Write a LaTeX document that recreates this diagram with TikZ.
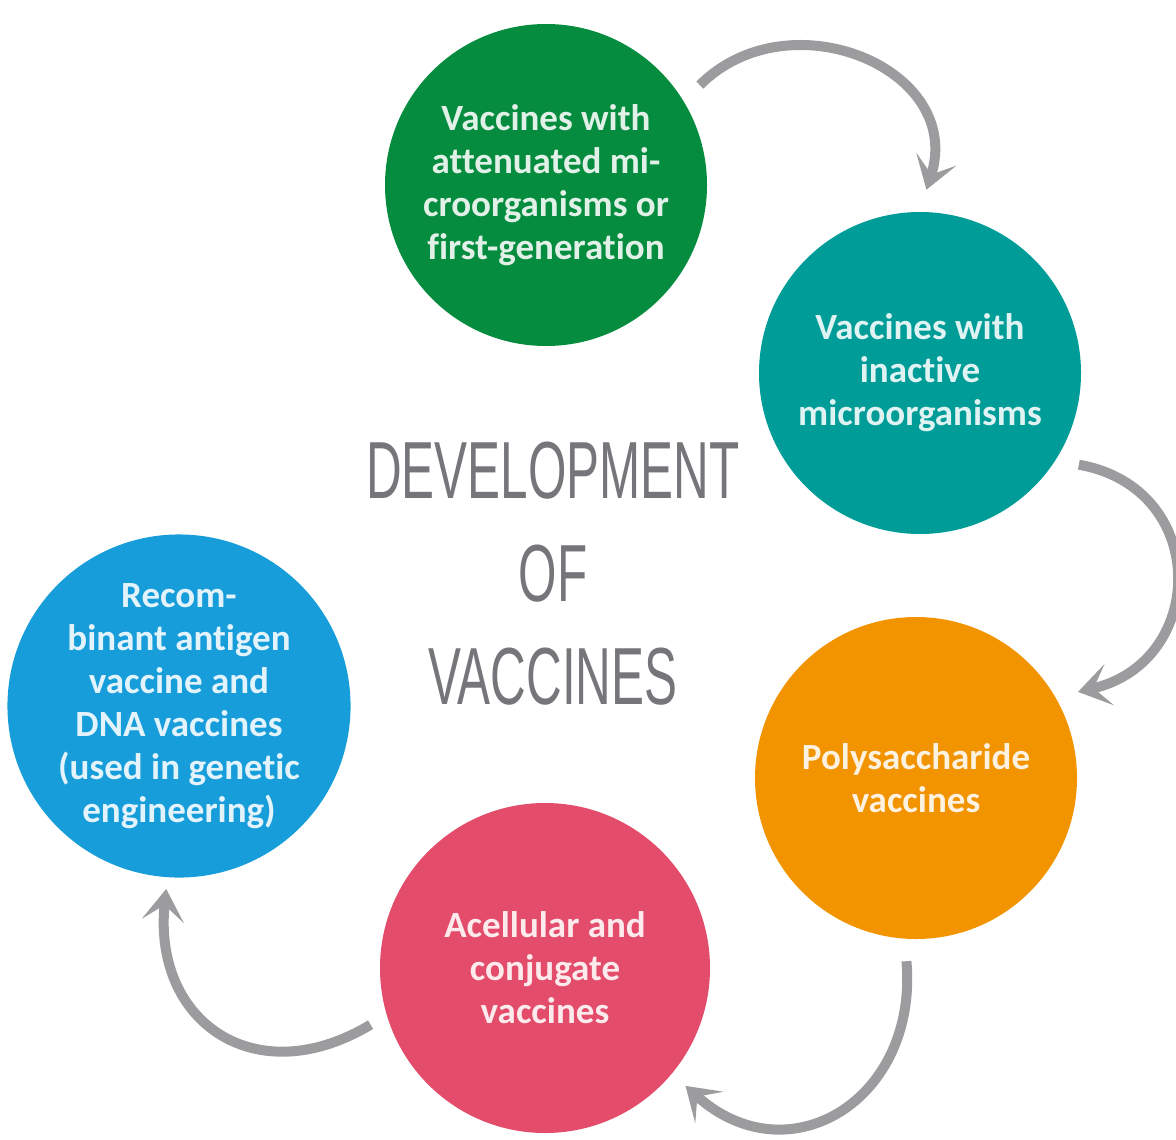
\documentclass[tikz,border=0pt]{standalone}
\usepackage{fontspec}
\usepackage{graphicx}
\usetikzlibrary{arrows.meta}
\newfontfamily\stagefont[Ligatures=NoCommon]{Carlito}
\newfontfamily\headfont{Liberation Sans}
\definecolor{vgreen}{RGB}{6,140,62}
\definecolor{vteal}{RGB}{0,157,152}
\definecolor{vorange}{RGB}{242,147,0}
\definecolor{vpink}{RGB}{227,76,106}
\definecolor{vblue}{RGB}{22,157,218}
\definecolor{cyclegray}{RGB}{156,156,158}
\definecolor{headgray}{RGB}{118,118,122}
\newcommand\narrowcaps[1]{\scalebox{0.61}[1]{#1}}

\begin{document}
\begin{tikzpicture}[x=0.5pt,y=0.5pt,
  stage/.style={circle,inner sep=0pt,align=center,
    font=\stagefont\bfseries\fontsize{18.5}{21.5}\selectfont},
  halo/.style={circle,inner sep=0pt,minimum size=183pt},
  cyc/.style={draw=cyclegray,line width=5pt,
    -{Stealth[length=16pt,width=21pt,inset=8pt]}},
  headtxt/.style={align=center,text=headgray,
    font=\headfont\fontsize{40.5}{51.5}\selectfont}]
\useasboundingbox (0,0) rectangle (1176,-1139);
\foreach \name/\col/\x/\y/\r/\txt in {
  green/vgreen/546/185/161/{Vaccines with\\attenuated mi-\\croorganisms or\\first-generation},
  teal/vteal/920/373/161/{Vaccines with\\inactive\\microorganisms},
  orange/vorange/916/778/161/{Polysaccharide\\vaccines},
  pink/vpink/545/968/165/{Acellular and\\conjugate\\vaccines},
  blue/vblue/179/706/161/{Recom-\\binant antigen\\vaccine and\\DNA vaccines\\(used in genetic\\engineering)}}{
 \node [stage,fill=\col,text=white!88!\col,minimum size=\r pt] (\name) at (\x,-\y) {\txt};
 \node [halo] (\name-h) at (\x,-\y) {}; % arrows start and end on this ring
}
\node [headtxt] (title) at (553,-574)
  {\narrowcaps{DEVELOPMENT}\\\narrowcaps{OF}\\\narrowcaps{VACCINES}};
\foreach \a/\sa/\b/\eb/\o/\i/\l in {
  green/33/teal/88/45/72/1.3,
  teal/-30/orange/28/-10/13/1.5,
  orange/-93/pink/-40/-85/-42/1.4,
  pink/198/blue/266/211/-96/1.4}{
 \path (\a-h.\sa) edge[cyc,out=\o,in=\i,looseness=\l] (\b-h.\eb); % clockwise step
}
\end{tikzpicture}
\end{document}
